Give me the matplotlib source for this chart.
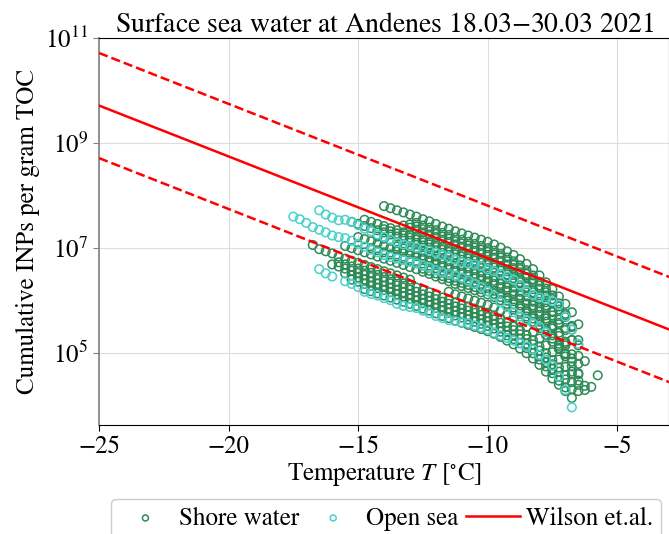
import numpy as np
import matplotlib
matplotlib.use("Agg")
import matplotlib.pyplot as plt
from matplotlib.ticker import NullLocator

# temperature steps of the freezing assay (deg C)
TEMPS = [-17.5, -17.25, -17.0, -16.75, -16.5, -16.25, -16.0, -15.75, -15.5, -15.25,
         -15.0, -14.75, -14.5, -14.25, -14.0, -13.75, -13.5, -13.25, -13.0, -12.75,
         -12.5, -12.25, -12.0, -11.75, -11.5, -11.25, -11.0, -10.75, -10.5, -10.25,
         -10.0, -9.75, -9.5, -9.25, -9.0, -8.75, -8.5, -8.25, -8.0, -7.75,
         -7.5, -7.25, -7.0, -6.75, -6.5, -6.25, -6.0, -5.75, -5.5]

# shore water samples: first temperature of each spectrum + log10(INPs per g TOC)
shore_start = [-14.0, -12.75, -13.25, -14.75, -15.25, -14.25, -15.0, -14.5,
               -15.5, -16.75, -15.75, -15.5, -14.75, -11.5, -6.0,
               -13.0, -14.0, -13.5, -12.5, -15.25, -16.0]
shore_log = [
    [7.80, 7.76, 7.72, 7.68, 7.64, 7.60, 7.55, 7.51, 7.46, 7.41, 7.37, 7.32, 7.28, 7.24, 7.20, 7.16,
     7.12, 7.07, 7.01, 6.94, 6.87, 6.79, 6.70, 6.60, 6.48, 6.35, 6.22, 6.08, 5.94, 5.78, 5.55],
    [7.48, 7.43, 7.39, 7.34, 7.29, 7.25, 7.20, 7.16, 7.12, 7.08, 7.04, 7.00, 6.95, 6.89, 6.82, 6.75,
     6.67, 6.58, 6.48, 6.36, 6.23, 6.10, 5.95, 5.75, 5.45],
    [7.43, 7.39, 7.35, 7.30, 7.26, 7.21, 7.16, 7.12, 7.07, 7.03, 6.99, 6.95, 6.91, 6.87, 6.82, 6.76,
     6.69, 6.62, 6.54, 6.45, 6.35, 6.23, 6.10, 5.97, 5.83, 5.69, 5.52, 5.25, 4.85],
    [7.54, 7.50, 7.46, 7.42, 7.38, 7.34, 7.30, 7.26, 7.22, 7.17, 7.13, 7.08, 7.03, 6.99, 6.94, 6.90,
     6.86, 6.82, 6.78, 6.74, 6.69, 6.63, 6.56, 6.49, 6.41, 6.32, 6.22, 6.10, 5.97, 5.80, 5.55, 5.15],
    [7.50, 7.46, 7.42, 7.38, 7.34, 7.30, 7.26, 7.22, 7.18, 7.14, 7.10, 7.05, 7.01, 6.96, 6.91, 6.87,
     6.82, 6.78, 6.74, 6.70, 6.66, 6.62, 6.57, 6.51, 6.44, 6.37, 6.29, 6.20, 6.10, 5.98, 5.85, 5.72,
     5.58, 5.44, 5.25, 4.95],
    [7.22, 7.18, 7.14, 7.10, 7.06, 7.02, 6.98, 6.93, 6.89, 6.84, 6.79, 6.75, 6.70, 6.66, 6.62, 6.58,
     6.54, 6.50, 6.45, 6.39, 6.32, 6.25, 6.17, 6.08, 5.98, 5.86, 5.72, 5.50, 5.10],
    [7.21, 7.17, 7.13, 7.09, 7.05, 7.01, 6.97, 6.93, 6.89, 6.85, 6.80, 6.76, 6.71, 6.66, 6.62, 6.57,
     6.53, 6.49, 6.45, 6.41, 6.37, 6.32, 6.26, 6.19, 6.12, 6.04, 5.95, 5.85, 5.73, 5.60, 5.47, 5.33,
     5.19, 4.98, 4.60],
    [7.00, 6.96, 6.92, 6.88, 6.84, 6.80, 6.76, 6.72, 6.67, 6.63, 6.58, 6.53, 6.49, 6.44, 6.40, 6.36,
     6.32, 6.28, 6.24, 6.19, 6.13, 6.06, 5.99, 5.91, 5.82, 5.72, 5.60, 5.47, 5.34, 5.18, 4.98, 4.65],
    [7.04, 7.00, 6.96, 6.92, 6.88, 6.84, 6.80, 6.76, 6.72, 6.68, 6.64, 6.60, 6.55, 6.51, 6.46, 6.41,
     6.37, 6.32, 6.28, 6.24, 6.20, 6.16, 6.12, 6.07, 6.01, 5.94, 5.87, 5.79, 5.70, 5.60, 5.48, 5.35,
     5.22, 5.08, 4.94, 4.75, 4.40],
    [7.06, 6.98, 6.94, 6.90, 6.84, 6.80, 6.76, 6.72, 6.68, 6.64, 6.60, 6.56, 6.52, 6.48, 6.44, 6.40],
    [6.73, 6.69, 6.65, 6.61, 6.57, 6.53, 6.49, 6.45, 6.41, 6.37, 6.33, 6.29, 6.25, 6.20, 6.16, 6.11,
     6.06, 6.02, 5.97, 5.93, 5.89, 5.85, 5.81, 5.77, 5.72, 5.66, 5.59, 5.52, 5.44, 5.35, 5.25, 5.13,
     5.00, 4.87, 4.73, 4.59, 4.45, 4.28],
    [6.52, 6.48, 6.44, 6.40, 6.36, 6.32, 6.28, 6.24, 6.20, 6.16, 6.12, 6.08, 6.03, 5.99, 5.94, 5.89,
     5.85, 5.80, 5.76, 5.72, 5.68, 5.64, 5.60, 5.55, 5.49, 5.42, 5.35, 5.27, 5.18, 5.08, 4.96, 4.83,
     4.70, 4.55, 4.35],
    [6.22, 6.18, 6.14, 6.10, 6.06, 6.02, 5.98, 5.94, 5.90, 5.85, 5.81, 5.76, 5.71, 5.67, 5.62, 5.58,
     5.54, 5.50, 5.46, 5.42, 5.37, 5.31, 5.24, 5.17, 5.09, 5.00, 4.90, 4.78, 4.65, 4.52, 4.40, 4.28,
     4.15],
    [6.17, 6.12, 6.08, 6.04, 6.00, 5.96, 5.92, 5.87, 5.81, 5.74, 5.67, 5.59, 5.50, 5.40, 5.28, 5.15,
     5.02, 4.88, 4.74, 4.60, 4.48, 4.38],
    [4.36, 4.58],
    [7.45, 7.41, 7.36, 7.32, 7.27, 7.22, 7.18, 7.13, 7.09, 7.05, 7.01, 6.97, 6.93, 6.88, 6.82, 6.75,
     6.68, 6.60, 6.51, 6.41, 6.29, 6.16, 6.03, 5.89, 5.72, 5.50, 5.15],
    [7.36, 7.32, 7.28, 7.24, 7.20, 7.16, 7.11, 7.07, 7.02, 6.97, 6.93, 6.88, 6.84, 6.80, 6.76, 6.72,
     6.68, 6.63, 6.57, 6.50, 6.43, 6.35, 6.26, 6.16, 6.04, 5.91, 5.78, 5.64, 5.48, 5.25, 4.80],
    [7.03, 6.99, 6.95, 6.91, 6.86, 6.82, 6.77, 6.72, 6.68, 6.63, 6.59, 6.55, 6.51, 6.47, 6.43, 6.38,
     6.32, 6.25, 6.18, 6.10, 6.01, 5.91, 5.79, 5.66, 5.53, 5.39, 5.22, 4.90],
    [6.61, 6.57, 6.52, 6.47, 6.43, 6.38, 6.34, 6.30, 6.26, 6.22, 6.18, 6.13, 6.07, 6.00, 5.93, 5.85,
     5.76, 5.66, 5.54, 5.41, 5.28, 5.14, 5.00, 4.84, 4.62, 4.30],
    [6.40, 6.36, 6.32, 6.28, 6.24, 6.20, 6.16, 6.12, 6.08, 6.04, 6.00, 5.95, 5.91, 5.86, 5.81, 5.77,
     5.72, 5.68, 5.64, 5.60, 5.56, 5.52, 5.47, 5.41, 5.34, 5.27, 5.19, 5.10, 5.00, 4.88, 4.75, 4.62,
     4.48],
    [6.69, 6.65, 6.61, 6.57, 6.53, 6.49, 6.45, 6.41, 6.37, 6.33, 6.29, 6.25, 6.21, 6.17, 6.12, 6.08,
     6.03, 5.98, 5.94, 5.89, 5.85, 5.81, 5.77, 5.73, 5.69, 5.64, 5.58, 5.51, 5.44, 5.36, 5.27, 5.17,
     5.05, 4.92, 4.79, 4.65, 4.50, 4.32],
]

# open sea samples
sea_start = [-16.5, -17.5, -15.5, -16.5]
sea_log = [
    [7.72, 7.64, 7.58, 7.53, 7.54, 7.50, 7.44, 7.37, 7.32, 7.26, 7.21, 7.16, 7.11, 7.07, 7.04, 7.01,
     6.98, 6.95, 6.91, 6.87, 6.83, 6.78, 6.73, 6.71, 6.69, 6.66, 6.60, 6.56, 6.51, 6.46, 6.40, 6.30,
     6.18, 6.11, 6.06, 6.03, 5.99, 5.92, 5.70, 5.45, 5.18],
    [7.60, 7.55, 7.48, 7.40, 7.35, 7.30, 7.24, 7.21, 7.19, 7.14, 7.08, 7.03, 6.97, 6.92, 6.87, 6.83,
     6.80, 6.77, 6.74, 6.71, 6.67, 6.63, 6.58, 6.54, 6.51, 6.48, 6.44, 6.38, 6.32, 6.26, 6.18, 6.09,
     5.97, 5.88, 5.78, 5.70, 5.63, 5.57, 5.50, 5.40],
    [6.37, 6.32, 6.26, 6.17, 6.13, 6.10, 6.05, 6.01, 5.94, 5.90, 5.88, 5.86, 5.81, 5.76, 5.71, 5.67,
     5.63, 5.61, 5.59, 5.57, 5.53, 5.49, 5.45, 5.39, 5.34, 5.29, 5.24, 5.19, 5.13, 5.07, 4.97, 4.88,
     4.76, 4.55, 4.30, 3.97],
    [6.60, 6.52, 6.46],
]

# Wilson et al. (2015) parameterisation, with one order of magnitude either side
wilson_T = [-25.0, -2.5]
wilson_n = [5.17e9, 2.27e5]
wilson_hi = [5.17e10, 2.27e6]
wilson_lo = [5.17e8, 2.27e4]

shore_color = "#2e8b57"
sea_color = "#48d1cc"

plt.rcParams["font.family"] = "STIXGeneral"
plt.rcParams["mathtext.fontset"] = "stix"
plt.rcParams["font.size"] = 18

fig = plt.figure(figsize=(6.69, 5.34), dpi=100)
ax = fig.add_axes([0.148, 0.204, 0.852, 0.725])


def draw_samples(starts, logs, color):
    handle = None
    for t0, vals in zip(starts, logs):
        i = TEMPS.index(t0)
        h = ax.scatter(TEMPS[i:i + len(vals)], 10 ** np.array(vals), s=38,
                       facecolors="none", edgecolors=color, linewidths=1.1, zorder=3)
        if handle is None:
            handle = h
    return handle


h_shore = draw_samples(shore_start, shore_log, shore_color)
h_sea = draw_samples(sea_start, sea_log, sea_color)

h_wil, = ax.plot(wilson_T, wilson_n, color="red", lw=1.8, zorder=4)
ax.plot(wilson_T, wilson_hi, color="red", lw=1.8, ls="--", zorder=4)
ax.plot(wilson_T, wilson_lo, color="red", lw=1.8, ls="--", zorder=4)

ax.set_yscale("log")
ax.set_xlim(-25, -3)
ax.set_ylim(4.3e3, 1e11)
ax.set_yticks([1e5, 1e7, 1e9, 1e11])
ax.yaxis.set_minor_locator(NullLocator())
ax.set_xticks([-25, -20, -15, -10, -5])
ax.grid(color="#dddddd", lw=0.8)
ax.set_axisbelow(True)

ax.spines["left"].set_color("#808080")
ax.spines["left"].set_linewidth(1.2)
ax.spines["bottom"].set_color("black")
ax.spines["top"].set_linewidth(0.8)
ax.tick_params(axis="y", colors="#808080", labelcolor="black", length=4)
ax.tick_params(axis="x", length=4)

ax.set_title("Surface sea water at Andenes 18.03$-$30.03 2021", fontsize=20, pad=4)
ax.set_xlabel("Temperature $T$ [$^{\\circ}$C]", labelpad=1)
ax.set_ylabel("Cumulative INPs per gram TOC")

fig.legend([h_shore, h_sea, h_wil], ["Shore water", "Open sea", "Wilson et.al."],
           loc="upper left", bbox_to_anchor=(0.166, 0.0655), ncol=3,
           markerscale=0.7, handlelength=2.15, handletextpad=0.25,
           columnspacing=0.3, borderpad=0.3, borderaxespad=0,
           edgecolor="#cccccc", framealpha=1)

fig.savefig("out.png", dpi=100)
